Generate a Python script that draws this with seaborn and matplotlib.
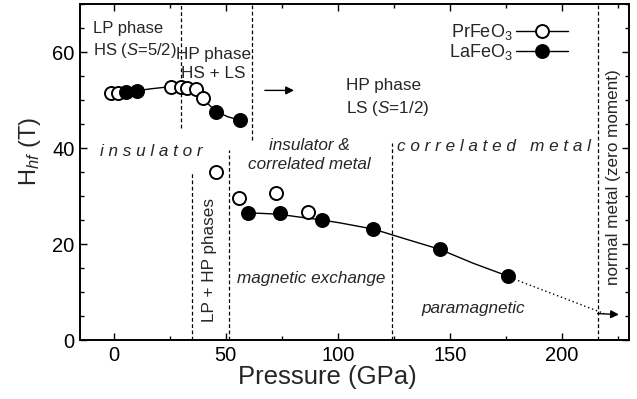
import numpy as np
import pandas as pd
import matplotlib
matplotlib.use("Agg")
import matplotlib.pyplot as plt
import seaborn as sns
from matplotlib.lines import Line2D
from matplotlib.ticker import MultipleLocator

# ---------------- data ----------------
pr_pressure = [-1, 2, 25.8, 30.2, 32.7, 36.9, 39.9, 45.8, 55.9, 72.3, 86.7]
pr_hf = [51.5, 51.5, 52.8, 52.8, 52.6, 52.2, 50.4, 35.1, 29.5, 30.7, 26.7]

la_pressure = [5.7, 10.4, 45.8, 56.3, 60.0, 74.1, 93.2, 115.8, 145.5, 176.0]
la_hf = [51.6, 51.9, 47.6, 45.8, 26.4, 26.4, 25.1, 23.1, 18.9, 13.3]

# guide-to-the-eye curves
upper_fit_p = [0, 5.7, 10.4, 16, 25.8, 32, 37, 41.4, 45.8, 51, 56.3]
upper_fit_h = [51.4, 51.6, 51.9, 52.3, 52.8, 52.8, 51.9, 49.5, 47.6, 46.5, 45.8]
lower_fit_p = [58, 65, 74, 81.5, 93, 101, 116, 130.6, 145.5, 160.4, 176]
lower_fit_h = [26.5, 26.4, 26.2, 25.7, 25.0, 24.4, 23.1, 21.0, 18.9, 16.0, 13.3]

# phase boundaries: (pressure, H from, H to)
boundaries = [(30.2, 44.2, 70), (61.7, 41.7, 70), (35.1, 0, 35.1),
              (51.5, 0, 39.6), (124.4, 0, 41.0), (216.2, 0, 70)]

x_ticks = [0, 50, 100, 150, 200]
y_ticks = [0, 20, 40, 60]

# ---------------- style ----------------
sns.set_theme(style="ticks")
plt.rcParams["font.family"] = ["Liberation Sans", "DejaVu Sans"]
plt.rcParams["mathtext.fontset"] = "custom"
plt.rcParams["mathtext.rm"] = "Liberation Sans"
plt.rcParams["mathtext.it"] = "Liberation Sans:italic"
plt.rcParams["mathtext.bf"] = "Liberation Sans:bold"

fig = plt.figure(figsize=(6.37, 3.99), dpi=100)
ax = fig.add_axes([80 / 637, 59 / 399, 549 / 637, 336 / 399])

# curves
sns.lineplot(x=upper_fit_p, y=upper_fit_h, sort=False, estimator=None,
             color="black", lw=1.0, ax=ax, zorder=2)
sns.lineplot(x=lower_fit_p, y=lower_fit_h, sort=False, estimator=None,
             color="black", lw=1.0, ax=ax, zorder=2)

# dotted extrapolation with arrow
ax.plot([177, 219], [13.0, 5.5], color="black", lw=1.0, ls=(0, (1, 2)), zorder=2)
ax.annotate("", xy=(225.5, 5.3), xytext=(216, 5.5),
            arrowprops=dict(arrowstyle="-|>", color="black", lw=1.0,
                            mutation_scale=12, shrinkA=0, shrinkB=0))

# points
sns.scatterplot(x=pr_pressure, y=pr_hf, marker="o", s=88, color="white",
                edgecolor="black", linewidth=1.4, ax=ax, zorder=3)
sns.scatterplot(x=la_pressure, y=la_hf, marker="o", s=88, color="black",
                edgecolor="black", linewidth=1.4, ax=ax, zorder=4)

# dashed boundaries
for xb, y0, y1 in boundaries:
    ax.plot([xb, xb], [y0, y1], color="black", lw=0.9, ls=(0, (3, 2)), zorder=1)

# arrow at HP phase
ax.annotate("", xy=(80.5, 52.0), xytext=(67.5, 52.0),
            arrowprops=dict(arrowstyle="-|>", color="black", lw=1.0,
                            mutation_scale=12, shrinkA=0, shrinkB=0))

fs = 12.3
ax.text(-9.2, 66.4, "LP phase\nHS ($S$=5/2)", fontsize=12, ha="left", va="top",
        linespacing=1.35)
ax.text(44.5, 61.0, "HP phase\nHS + LS", fontsize=fs, ha="center", va="top",
        linespacing=1.3)
ax.text(103.9, 54.6, "HP phase\nLS ($S$=1/2)", fontsize=fs, ha="left", va="top",
        linespacing=1.45)

ax.text(16.7, 39.3, "i n s u l a t o r", fontsize=fs, style="italic",
        ha="center", va="center")
ax.text(87.5, 38.6, "insulator &\ncorrelated metal", fontsize=fs, style="italic",
        ha="center", va="center", linespacing=1.3)
ax.text(169.6, 40.3, "c o r r e l a t e d   m e t a l", fontsize=fs,
        style="italic", ha="center", va="center")
ax.text(88, 12.9, "magnetic exchange", fontsize=fs, style="italic",
        ha="center", va="center")
ax.text(160.3, 6.5, "paramagnetic", fontsize=fs, style="italic",
        ha="center", va="center")
ax.text(42.6, 16.7, "LP + HP phases", fontsize=fs, rotation=90,
        ha="center", va="center")
ax.text(223, 34, "normal metal (zero moment)", fontsize=fs, rotation=90,
        ha="center", va="center")

# legend
handles = [Line2D([], [], color="black", lw=1.0, marker="o", ms=9.3,
                  mfc="white", mec="black", mew=1.4),
           Line2D([], [], color="black", lw=1.0, marker="o", ms=9.3,
                  mfc="black", mec="black", mew=1.4)]
ax.legend(handles, ["PrFeO$_3$", "LaFeO$_3$"], loc="upper right",
          bbox_to_anchor=(0.889, 0.945), markerfirst=False, frameon=False,
          fontsize=13, handlelength=2.9, handletextpad=0.15, labelspacing=0.0,
          borderpad=0, borderaxespad=0)

# axes
ax.set_xlim(-15, 230)
ax.set_ylim(0, 70)
ax.set_xticks(x_ticks)
ax.set_yticks(y_ticks)
ax.xaxis.set_minor_locator(MultipleLocator(25))
ax.yaxis.set_minor_locator(MultipleLocator(5))
ax.tick_params(which="both", direction="in", top=True, right=True,
               labelsize=14.5, width=1.0, color="black", labelcolor="black")
ax.tick_params(which="major", length=5, pad=4)
ax.tick_params(which="minor", length=3)
for sp in ax.spines.values():
    sp.set_linewidth(1.4)
    sp.set_color("black")
    sp.set_visible(True)

ax.set_xlabel("Pressure (GPa)", fontsize=18.5)
ax.xaxis.set_label_coords(0.45, -0.075)
ax.set_ylabel("H$_{\\mathit{hf}}$ (T)", fontsize=17)
ax.yaxis.set_label_coords(-0.068, 0.56)

fig.savefig("out.png", dpi=100)
